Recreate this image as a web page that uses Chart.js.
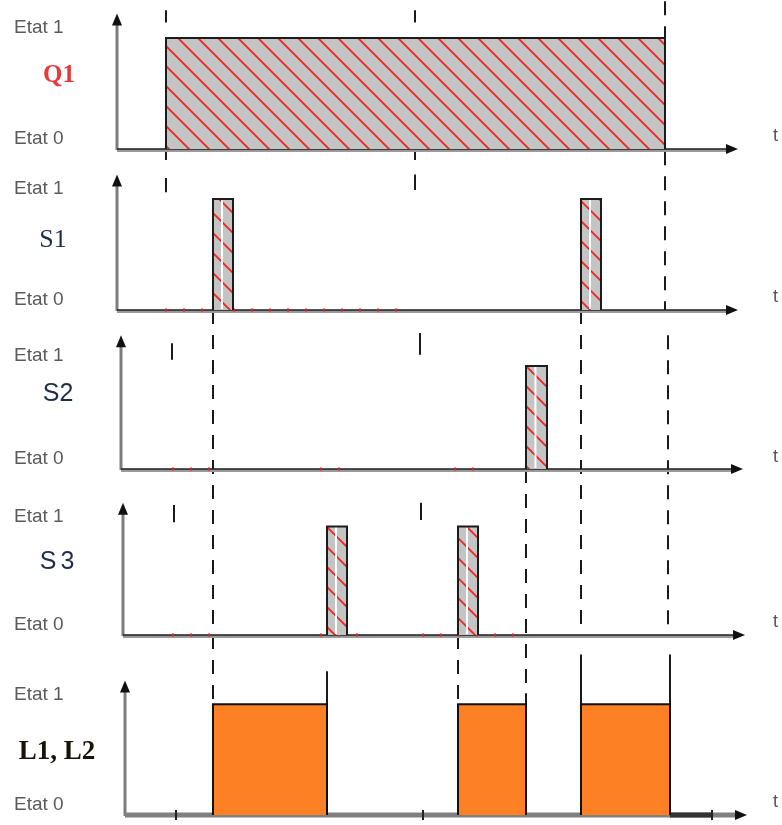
<!DOCTYPE html>
<html><head><meta charset="utf-8">
<script src="https://cdn.jsdelivr.net/npm/chart.js@4/dist/chart.umd.min.js"></script>
<style>html,body{margin:0;padding:0;background:#fff;overflow:hidden}#wrap{position:relative;width:782px;height:825px}</style>
</head><body><div id="wrap"><canvas id="c"></canvas></div>
<script>
// ---- data (time units) ----
const signalNames = ['Q1', 'S1', 'S2', 'S3', 'L1, L2'];
const stateLabels = ['Etat 0', 'Etat 1'];
const q1High = [[4.7, 54.6]];
const s1High = [[9.4, 11.4], [46.2, 48.2]];
const s2High = [[40.7, 42.8]];
const s3High = [[20.8, 22.8], [33.9, 35.9]];
const lHigh  = [[9.4, 20.8], [33.9, 40.7], [46.2, 55.1]];
const s1Low = [[4.6, 9.4], [11.4, 28.4]];
const s2Low = [[5.3, 9.4], [20.1, 22.1], [33.5, 35.6]];
const s3Low = [[5.3, 9.4], [20.1, 24.9], [30.3, 40.7]];
const lLow  = [[55.1, 59.3]];
const lMarks = [5.7, 30.4, 59.3];
// guide lines: [time, fromPanel, fromLevel, toPanel, toLevel, dashed]
const guideLines = [
  [4.7, 0, 1.25, 0, 1.14, false], [4.7, 0, 0, 0, -0.1, false], [4.7, 1, 1.19, 1, 1.06, false],
  [29.6, 0, 1.25, 0, 1.14, false], [29.6, 0, 0, 0, -0.1, false], [29.6, 1, 1.22, 1, 1.08, false],
  [5.3, 2, 1.22, 2, 1.06, false], [5.5, 3, 1.2, 3, 1.04, false],
  [30.1, 2, 1.32, 2, 1.11, false], [30.2, 3, 1.22, 3, 1.06, false],
  [54.6, 0, 1.33, 1, 0, true], [54.6, 0, 0, 0, -0.1, false],
  [54.9, 2, 1.3, 3, 0, true], [55.1, 4, 1.45, 4, 1, false],
  [9.4, 1, 0, 4, 1, true],
  [20.8, 4, 1.3, 4, 1, false],
  [33.9, 3, 0, 4, 1, true],
  [40.7, 2, 0, 4, 1.1, true], [40.7, 4, 1.1, 4, 1, false],
  [46.2, 1, 0, 3, 0, true], [46.2, 4, 1.45, 4, 1, false]
];

// ---- layout / style per panel ----
const ids = ['y1', 'y2', 'y3', 'y4', 'y5'];
const panels = [
  {h:160, min:-0.099, max:1.342, arrowTop:1.22, axisT:-0.2, arrowEnd:61.9, nameV:0.66, nameX:59, font:'bold 25px "Liberation Serif"', color:'#e8383a', spacing:'0px', heavy:false},
  {h:160, min:-0.09,  max:1.351, arrowTop:1.22, axisT:-0.2, arrowEnd:61.9, nameV:0.63, nameX:53, font:'26px "Liberation Serif"', color:'#1f2d4d', spacing:'0px', heavy:false},
  {h:160, min:-0.107, max:1.447, arrowTop:1.30, axisT:0.2,  arrowEnd:62.4, nameV:0.73, nameX:58, font:'25px "Liberation Sans"', color:'#1f2d4d', spacing:'0px', heavy:false},
  {h:166, min:-0.101, max:1.43,  arrowTop:1.22, axisT:0.4,  arrowEnd:62.6, nameV:0.67, nameX:59, font:'25px "Liberation Sans"', color:'#1f2d4d', spacing:'4px', heavy:false},
  {h:179, min:-0.09,  max:1.527, arrowTop:1.216, axisT:0.6, arrowEnd:62.8, nameV:0.57, nameX:57, font:'bold 27px "Liberation Serif"', color:'#1a1208', spacing:'0px', heavy:true}
];

const canvas = document.getElementById('c');
const cctx = canvas.getContext('2d');
function makeHatch(){
  const c = document.createElement('canvas'); c.width = 20; c.height = 20;
  const g = c.getContext('2d');
  g.fillStyle = '#c4c4c4'; g.fillRect(0, 0, 20, 20);
  g.strokeStyle = '#f0241e'; g.lineWidth = 1.8;
  g.beginPath();
  g.moveTo(-2, -2); g.lineTo(22, 22);
  g.moveTo(-2, 18); g.lineTo(2, 22);
  g.moveTo(18, -2); g.lineTo(22, 2);
  g.stroke();
  return cctx.createPattern(c, 'repeat');
}
const hatch = makeHatch();

function rect(p){ return [{x:p[0], y:0}, {x:p[0], y:1}, {x:p[1], y:1}, {x:p[1], y:0}]; }
const datasets = [];
function addHigh(list, axis, fillStyle, border, bw, midLine){
  list.forEach(p => {
    datasets.push({data: rect(p), yAxisID: axis, fill: 'origin', backgroundColor: fillStyle,
      borderColor: border, borderWidth: bw, pointRadius: 0, tension: 0, order: 2});
    if (midLine){
      const m = p[0] + (p[1] - p[0]) * 0.45;
      datasets.push({data: [{x:m, y:0.01}, {x:m, y:0.99}], yAxisID: axis, fill: false,
        borderColor: '#ffffff', borderWidth: 2, pointRadius: 0, order: 1});
    }
  });
}
function addLow(list, axis, color, width, dash){
  list.forEach(p => datasets.push({data: [{x:p[0], y:0}, {x:p[1], y:0}], yAxisID: axis, fill: false,
    borderColor: color, borderWidth: width, borderDash: dash, pointRadius: 0, order: 3}));
}
addLow(s1Low, 'y2', '#e02020', 3, [2, 16]);
addLow(s2Low, 'y3', '#e02020', 3, [2, 16]);
addLow(s3Low, 'y4', '#e02020', 3, [2, 16]);
addLow(lLow, 'y5', '#333333', 5, []);
addHigh(q1High, 'y1', hatch, '#1c1c1c', 2, false);
addHigh(s1High, 'y2', hatch, '#1c1c1c', 2, true);
addHigh(s2High, 'y3', hatch, '#1c1c1c', 2, true);
addHigh(s3High, 'y4', hatch, '#1c1c1c', 2, true);
addHigh(lHigh, 'y5', '#fd8024', '#111111', 2, false);
datasets.push({type: 'scatter', data: lMarks.map(t => ({x:t, y:0})), yAxisID: 'y5', pointStyle: 'line',
  rotation: 90, pointRadius: 5, borderColor: '#222', borderWidth: 2, backgroundColor: '#222', order: 0});

const scales = {x: {type: 'linear', min: 0, max: 66.3, display: false}};
panels.forEach((p, i) => {
  scales[ids[i]] = {
    type: 'linear', position: 'left', stack: 'panels', stackWeight: p.h, weight: 5 - i,
    min: p.min, max: p.max,
    grid: {display: false}, border: {display: false},
    afterBuildTicks: s => { s.ticks = [{value: 0}, {value: 1}]; },
    afterFit: s => { s.width = 105; s.paddingTop = 0; s.paddingBottom = 0; s.paddingLeft = 0; s.paddingRight = 0; },
    ticks: {autoSkip: false, crossAlign: 'far', labelOffset: -10, color: '#5a5a5a',
      font: {family: '"Liberation Sans", Arial', size: 19},
      callback: v => (v === 0 ? stateLabels[0] : stateLabels[1])}
  };
});

function line(ctx, x1, y1, x2, y2){ ctx.beginPath(); ctx.moveTo(x1, y1); ctx.lineTo(x2, y2); ctx.stroke(); }
const decor = {
  id: 'decor',
  beforeDatasetsDraw(chart){
    const ctx = chart.ctx, xs = chart.scales.x;
    ctx.save();
    ctx.strokeStyle = '#1a1a1a'; ctx.lineWidth = 2;
    guideLines.forEach(g => {
      const x = xs.getPixelForValue(g[0]);
      const ya = chart.scales[ids[g[1]]].getPixelForValue(g[2]);
      const yb = chart.scales[ids[g[3]]].getPixelForValue(g[4]);
      ctx.setLineDash(g[5] ? [14, 11] : []);
      line(ctx, x, ya, x, yb);
    });
    ctx.setLineDash([]);
    panels.forEach((p, i) => {
      const ys = chart.scales[ids[i]];
      const x0 = xs.getPixelForValue(p.axisT), x1 = xs.getPixelForValue(p.arrowEnd);
      const yb = ys.getPixelForValue(0), yt = ys.getPixelForValue(p.arrowTop);
      ctx.strokeStyle = '#7c7c7c'; ctx.lineWidth = 3;
      line(ctx, x0, yb + 1, x0, yt + 8);
      if (p.heavy){
        ctx.strokeStyle = '#808080'; ctx.lineWidth = 5; line(ctx, x0, yb, x1 - 8, yb);
      } else {
        ctx.strokeStyle = '#9a9a9a'; ctx.lineWidth = 3; line(ctx, x0, yb + 1.5, x1 - 8, yb + 1.5);
        ctx.strokeStyle = '#1e1e1e'; ctx.lineWidth = 1.6; line(ctx, x0, yb, x1 - 8, yb);
      }
      ctx.fillStyle = '#111';
      ctx.beginPath(); ctx.moveTo(x0, yt); ctx.lineTo(x0 - 5, yt + 12); ctx.lineTo(x0 + 5, yt + 12); ctx.closePath(); ctx.fill();
      ctx.beginPath(); ctx.moveTo(x1, yb); ctx.lineTo(x1 - 12, yb - 5); ctx.lineTo(x1 - 12, yb + 5); ctx.closePath(); ctx.fill();
    });
    ctx.restore();
  },
  afterDraw(chart){
    const ctx = chart.ctx, xs = chart.scales.x;
    ctx.save();
    ctx.textBaseline = 'middle';
    panels.forEach((p, i) => {
      const ys = chart.scales[ids[i]];
      ctx.font = p.font; ctx.fillStyle = p.color; ctx.textAlign = 'center';
      try { ctx.letterSpacing = p.spacing; } catch(e) {}
      ctx.fillText(signalNames[i], p.nameX, ys.getPixelForValue(p.nameV));
      try { ctx.letterSpacing = '0px'; } catch(e) {}
      ctx.font = '18px "Liberation Sans"'; ctx.fillStyle = '#555'; ctx.textAlign = 'left';
      ctx.fillText('t', xs.getPixelForValue(65.4), ys.getPixelForValue(0.12));
    });
    ctx.restore();
  }
};

new Chart(canvas, {
  type: 'line',
  data: {datasets},
  options: {
    responsive: true, maintainAspectRatio: false, animation: false, devicePixelRatio: 1,
    layout: {padding: {left: 14, right: 0, top: 0, bottom: 0}, autoPadding: false},
    plugins: {legend: {display: false}, tooltip: {enabled: false}},
    events: [],
    scales
  },
  plugins: [decor]
});
</script></body></html>
